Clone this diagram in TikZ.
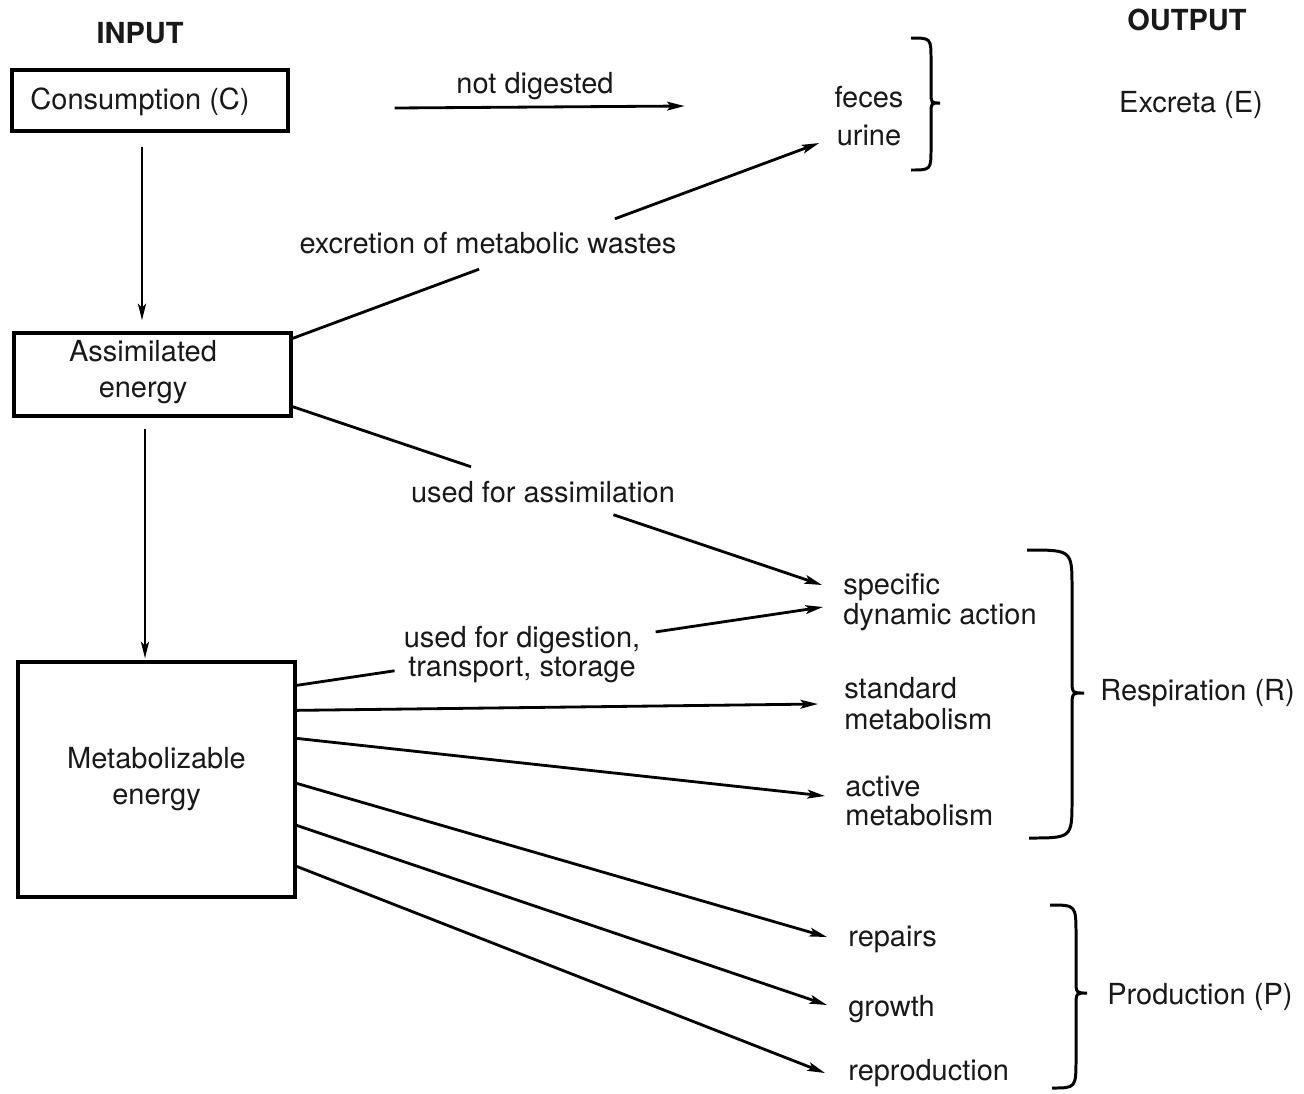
\documentclass[tikz,border=0pt]{standalone}
\usepackage{fontspec}
\setmainfont{TeX Gyre Heros}
\usetikzlibrary{arrows.meta,calc}
\begin{document}
\begin{tikzpicture}[x=0.02cm,y=-0.02cm,
  every node/.style={font=\fontsize{16.5}{19}\selectfont, inner sep=0pt, text=black!90},
  box/.style={draw, line width=1.9pt, align=center},
  ln/.style={line width=1.6pt},
  arr/.style={line width=1.6pt,-{Stealth[length=10pt,width=5pt,inset=2.2pt]}},
  varr/.style={line width=1.3pt,-{Stealth[length=9.5pt,width=4.6pt,inset=2.2pt]}},
  brc/.style={line width=1.7pt},
  lbl/.style={align=left, anchor=west}]

\useasboundingbox (0,0) rectangle (1304,1093);
\fill[white] (0,0) rectangle (1304,1093);

% boxes
\node[box, minimum width=5.52cm, minimum height=1.22cm] (C) at (150,100.5) {};
\node (Ct) at (140,102) {Consumption (C)};
\node[box, minimum width=5.54cm, minimum height=1.66cm] (A) at (152.5,374.5) {};
\node[align=center, font=\fontsize{16.5}{20.5}\selectfont] (At) at (143,372) {Assimilated\\energy};
\node[box, minimum width=5.54cm, minimum height=4.7cm, font=\fontsize{16.5}{20.5}\selectfont] (M) at (156.5,779.5) {Metabolizable\\energy};

% headings and labels
\node[font=\bfseries\fontsize{16.5}{19}\selectfont] (IN) at (140,33) {INPUT};
\node[font=\bfseries\fontsize{16.5}{19}\selectfont] (OUT) at (1187,20) {OUTPUT};
\node (ND) at (535,86) {not digested};
\node[align=center, font=\fontsize{16.5}{21.5}\selectfont] (FU) at (869,116) {feces\\urine};
\node (EX) at (1191,105) {Excreta (E)};
\node (EXL) at (488,243) {excretion of metabolic wastes};
\node (ASL) at (543,492) {used for assimilation};
\node[align=center, font=\fontsize{16.5}{16.5}\selectfont] (DGL) at (522,655) {used for digestion,\\transport, storage};
\node[lbl, font=\fontsize{16.5}{17}\selectfont] (SDA) at (843,602) {specific\\dynamic action};
\node[lbl, font=\fontsize{16.5}{17.5}\selectfont] (SM) at (844,703.5) {standard\\metabolism};
\node[lbl, font=\fontsize{16.5}{16.5}\selectfont] (AM) at (845,801) {active\\metabolism};
\node[lbl] (RP) at (848,939) {repairs};
\node[lbl] (GR) at (848,1009) {growth};
\node[lbl] (RE) at (848,1073) {reproduction};
\node[anchor=west] (RR) at (1100,693) {Respiration (R)};
\node[anchor=west] (PP) at (1107,997) {Production (P)};

% vertical arrows
\draw[varr] ($(C.south)+(-8,14)$) -- ($(C.south |- A.north)+(-8,-11)$);
\draw[varr] ($(A.south)+(-7.5,11)$) -- ($(A.south |- M.north)+(-7.5,-2)$);

% not digested
\draw[arr] ($(C.east)+(105,7.5)$) -- ($(C.east)+(395,5.5)$);

% excretion of metabolic wastes
\coordinate (e0) at ($(A.north east)+(0,7)$);
\coordinate (e1) at ($(FU.west)+(-15,27)$);
\draw[ln] (e0) -- ($(e0)!0.354!(e1)$);
\draw[arr] ($(e0)!0.612!(e1)$) -- (e1);

% used for assimilation
\coordinate (a0) at ($(A.south east)+(0,-11)$);
\coordinate (a1) at ($(SDA.west)+(-21,-17)$);
\draw[ln] (a0) -- ($(a0)!0.337!(a1)$);
\draw[arr] ($(a0)!0.606!(a1)$) -- (a1);

% used for digestion
\coordinate (d0) at ($(M.north east)+(0,25)$);
\coordinate (d1) at ($(SDA.west)+(-20,5)$);
\draw[ln] (d0) -- ($(d0)!0.186!(d1)$);
\draw[arr] ($(d0)!0.682!(d1)$) -- (d1);

% other outputs
\draw[arr] ($(M.north east)+(0,50)$) -- ($(SM.west)+(-26,0.5)$);
\draw[arr] ($(M.north east)+(0,78)$) -- ($(AM.west)+(-20,-5)$);
\draw[arr] ($(M.north east)+(0,123)$) -- ($(RP.west)+(-21,-2)$);
\draw[arr] ($(M.north east)+(0,165)$) -- ($(GR.west)+(-21,-4)$);
\draw[arr] ($(M.north east)+(0,206)$) -- ($(RE.west)+(-23,0)$);

% braces
\draw[brc] (911,38) .. controls (931,38) .. (931,60) -- (931,92)
  .. controls (931,103) .. (940,103) .. controls (931,103) .. (931,114)
  -- (931,148) .. controls (931,170) .. (911,170);
\draw[brc] (1027,550) .. controls (1072,550) .. (1072,588) -- (1072,679)
  .. controls (1072,693) .. (1084,693) .. controls (1072,693) .. (1072,707)
  -- (1072,800) .. controls (1072,838) .. (1029,838);
\draw[brc] (1050,905) .. controls (1076,905) .. (1076,935) -- (1076,980)
  .. controls (1076,993) .. (1087,993) .. controls (1076,993) .. (1076,1006)
  -- (1076,1058) .. controls (1076,1088) .. (1052,1088);
\end{tikzpicture}
\end{document}
